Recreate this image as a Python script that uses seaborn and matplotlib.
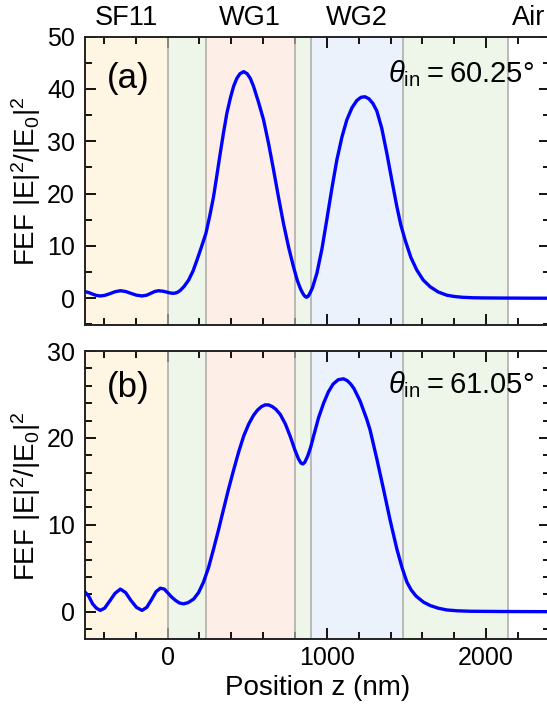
import matplotlib
matplotlib.use("Agg")
import matplotlib.pyplot as plt
import matplotlib.transforms as mtransforms
from matplotlib.ticker import MultipleLocator
import pandas as pd
import seaborn as sns

# ---------------- data ----------------
layer_names = ["SF11", "WG1", "WG2", "Air"]
label_x = [-260, 520, 1190, 2270]
boundaries = [0, 240, 800, 900, 1480, 2140]
layer_colors = ["#fff5e3", "#eef6ea", "#fdefe7", "#eef6ea", "#ebf2fb", "#eef6ea", "#ffffff"]

a_z = [-520, -495, -470, -446, -422, -395, -360, -330, -296, -263, -230, -195, -160, -130,
       -105, -80, -56, -28, 0, 20, 38, 60, 80, 105, 133, 160, 185, 213, 241, 265, 289, 310,
       331, 352, 373, 395, 415, 435, 455, 478, 500, 520, 540, 570, 603, 635, 666, 697, 728,
       760, 791, 815, 835, 850, 862, 872, 882, 893, 910, 938, 970, 1000, 1032, 1063, 1095,
       1126, 1158, 1189, 1215, 1240, 1265, 1290, 1314, 1345, 1377, 1410, 1440, 1465, 1492,
       1528, 1565, 1605, 1649, 1700, 1753, 1800, 1850, 1920, 2000, 2100, 2250, 2400]
a_fef = [1.3, 1.1, 0.8, 0.55, 0.45, 0.55, 0.9, 1.25, 1.45, 1.3, 0.95, 0.6, 0.45, 0.6,
         0.95, 1.3, 1.45, 1.35, 1.15, 1.0, 0.95, 1.1, 1.5, 2.3, 3.5, 5.2, 7.3, 9.8, 12.4, 15.7, 19.4, 23.5,
         27.7, 31.7, 35.4, 38.3, 40.5, 42.0, 42.9, 43.3, 42.9, 42.0, 40.5, 37.6, 34.1, 29.5, 24.5, 19.3, 14.3,
         9.8, 6.0, 3.4, 1.8, 0.9, 0.4, 0.2, 0.35, 0.9, 2.0, 4.8, 9.5, 15.0, 21.0, 26.4, 30.8,
         34.1, 36.4, 37.8, 38.4, 38.5, 38.1, 37.2, 35.8, 32.5, 27.7, 22.3, 17.5, 14.0, 11.1,
         7.8, 5.4, 3.5, 2.2, 1.2, 0.6, 0.35, 0.2, 0.1, 0.07, 0.05, 0.03, 0.02]

b_z = [-520, -495, -470, -446, -422, -395, -360, -330, -296, -263, -230, -195, -160, -130,
       -100, -72, -45, -20, 0, 25, 50, 75, 101, 130, 164, 195, 226, 258, 289, 320, 352, 383,
       415, 447, 478, 510, 540, 565, 590, 612, 634, 658, 680, 708, 740, 770, 800, 822, 838,
       850, 862, 880, 900, 917, 948, 980, 1010, 1040, 1072, 1105, 1128, 1150, 1170, 1189,
       1210, 1230, 1250, 1272, 1314, 1356, 1398, 1440, 1472, 1503, 1530, 1560, 1607, 1650,
       1700, 1753, 1820, 1900, 2100, 2400]
b_fef = [2.3, 1.8, 0.9, 0.4, 0.15, 0.4, 1.3, 2.1, 2.6, 2.2, 1.3, 0.5, 0.15, 0.5,
         1.4, 2.3, 2.7, 2.6, 2.2, 1.7, 1.3, 1.0, 0.9, 1.05, 1.45, 2.2, 3.4, 5.1, 7.2, 9.4, 11.8, 14.1,
         16.3, 18.4, 20.2, 21.6, 22.6, 23.2, 23.6, 23.8, 23.8, 23.6, 23.3, 22.7, 21.6, 20.2, 18.6, 17.6, 17.1,
         17.0, 17.2, 17.9, 19.0, 20.2, 22.3, 24.0, 25.3, 26.2, 26.7, 26.8, 26.6, 26.2, 25.7, 25.0,
         24.2, 23.2, 22.2, 20.9, 17.6, 14.1, 10.5, 7.2, 5.1, 3.4, 2.5, 1.8, 1.1, 0.7,
         0.4, 0.2, 0.1, 0.05, 0.02, 0.0]

panel_labels = ["(a)", "(b)"]
angles = ["60.25", "61.05"]
x_ticks = [0, 1000, 2000]

# ---------------- style ----------------
sns.set_theme(style="ticks")
plt.rcParams["font.family"] = ["Liberation Sans", "DejaVu Sans"]
plt.rcParams["text.color"] = "black"
plt.rcParams["axes.labelcolor"] = "black"
plt.rcParams["mathtext.fontset"] = "custom"
plt.rcParams["mathtext.rm"] = "Liberation Sans"
plt.rcParams["mathtext.it"] = "Liberation Sans:italic"
plt.rcParams["mathtext.bf"] = "Liberation Sans:bold"

XLIM = (-520, 2400)

fig = plt.figure(figsize=(5.47, 7.07), dpi=100)
ax1 = fig.add_axes([0.1548, 0.5403, 0.8503, 0.408])
ax2 = fig.add_axes([0.1548, 0.0955, 0.8503, 0.408])

dfs = [pd.DataFrame({"z": a_z, "fef": a_fef}), pd.DataFrame({"z": b_z, "fef": b_fef})]
ylims = [(-5.1, 50), (-3.2, 30)]
minors = [5, 2]

edges = [XLIM[0]] + boundaries + [XLIM[1]]
for i, ax in enumerate([ax1, ax2]):
    for j in range(len(edges) - 1):
        ax.axvspan(edges[j], edges[j + 1], color=layer_colors[j], lw=0, zorder=0)
    for b in boundaries:
        ax.axvline(b, color="#a9a9a9", lw=1.1, zorder=1)
    sns.lineplot(data=dfs[i], x="z", y="fef", ax=ax, color="#0000ff", lw=2.4, zorder=3)
    ax.set_xlim(*XLIM)
    ax.set_ylim(*ylims[i])
    ax.xaxis.set_major_locator(MultipleLocator(1000))
    ax.xaxis.set_minor_locator(MultipleLocator(200))
    ax.yaxis.set_major_locator(MultipleLocator(10))
    ax.yaxis.set_minor_locator(MultipleLocator(minors[i]))
    ax.tick_params(which="both", direction="in", top=True, right=True, colors="black",
                   labelsize=18, width=1.3)
    ax.tick_params(which="major", length=8)
    ax.tick_params(axis="y", which="major", pad=7)
    ax.tick_params(axis="x", which="major", pad=5)
    ax.tick_params(which="minor", length=5)
    ax.set_xlabel("")
    ax.set_ylabel("")
    for s in ax.spines.values():
        s.set_linewidth(1.4)
        s.set_color("#222222")
    ax.text(0.047, [0.856, 0.872][i], panel_labels[i], transform=ax.transAxes,
            fontsize=25, ha="left", va="center", zorder=5)
    ax.text(0.965, [0.873, 0.883][i],
            r"$\theta_{\mathrm{in}}$" + "\u2009=\u2009" + angles[i] + "°",
            transform=ax.transAxes, fontsize=21, ha="right", va="center", zorder=5)

ax1.tick_params(labelbottom=False)
ax2.set_xticks(x_ticks)
ax2.set_xlabel("Position z (nm)", fontsize=20, labelpad=3)

# layer labels above top panel
trans = mtransforms.blended_transform_factory(ax1.transData, ax1.transAxes)
for name, xc in zip(layer_names, label_x):
    ax1.text(xc, 1.018, name, transform=trans, ha="center", va="bottom",
             fontsize=19.5, clip_on=False)

ylab = r"FEF |E|$^2$/|E$_0$|$^2$"
fig.text(26 / 547, 0.7443, ylab, rotation=90, ha="center", va="center", fontsize=20)
fig.text(26 / 547, 0.2986, ylab, rotation=90, ha="center", va="center", fontsize=20)

fig.savefig("out.png", dpi=100)
